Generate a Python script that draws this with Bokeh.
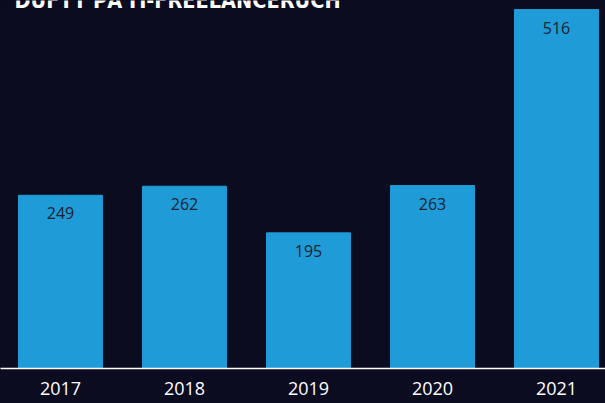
from bokeh.plotting import figure
from bokeh.models import Range1d, FixedTicker, Label, ColumnDataSource, LabelSet
from bokeh.core.properties import value
from bokeh.embed import file_html
from bokeh.resources import INLINE

years = ["2017", "2018", "2019", "2020", "2021"]
counts = [249, 262, 195, 263, 516]
title_text = "DUFTT PÅ IT-FREELANCERUCH"

BG = "#0b0c1f"
BAR = "#1f9bd7"

idx = list(range(len(years)))
src = ColumnDataSource(dict(x=idx, top=counts, label=[str(c) for c in counts]))

p = figure(width=605, height=403, output_backend="svg", toolbar_location=None,
           x_range=Range1d(-0.4839, 4.395), y_range=Range1d(0, 529),
           min_border_left=0, min_border_right=0, min_border_top=0, min_border_bottom=35)
p.styles = {"position": "fixed", "top": "0px", "left": "0px", "background-color": BG}
p.background_fill_color = BG
p.border_fill_color = BG
p.outline_line_color = None
p.grid.visible = False
p.yaxis.visible = False

p.vbar(x="x", top="top", bottom=0, width=0.677, color=BAR, source=src)

labels = LabelSet(x="x", y="top", text="label", source=src, y_offset=-18,
                  text_align="center", text_baseline="middle",
                  text_font=value("Open Sans"), text_font_size="16px",
                  text_font_style="normal", text_color="#1a2230")
p.add_layout(labels)

ax = p.xaxis[0]
ax.ticker = FixedTicker(ticks=idx)
ax.major_label_overrides = {i: y for i, y in zip(idx, years)}
ax.axis_line_color = "#ffffff"
ax.axis_line_width = 1.5
ax.major_tick_line_color = None
ax.major_tick_out = 0
ax.minor_tick_line_color = None
ax.major_label_text_color = "#ffffff"
ax.major_label_text_font = "Open Sans"
ax.major_label_text_font_size = "18px"
ax.major_label_standoff = 13

title = Label(x=14, y=529, x_units="screen", y_units="data", text=title_text,
              text_font="DejaVu Sans Condensed", text_font_style="bold",
              text_font_size="21.5px", text_color="#ffffff", text_baseline="alphabetic")
p.add_layout(title)

open("out.html", "w").write(file_html(p, INLINE))
